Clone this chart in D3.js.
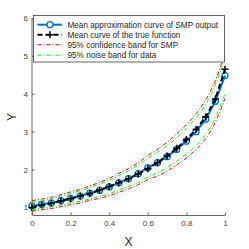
<!DOCTYPE html>
<html>
<head>
<meta charset="utf-8">
<script src="https://d3js.org/d3.v7.min.js"></script>
<style>
  body { margin: 0; background: #fff; }
  svg text { font-family: "Liberation Sans", Arial, sans-serif; }
</style>
</head>
<body>
<svg id="chart"></svg>
<script>
// sample points, x = 0:0.05:1
var xs = [0, 0.05, 0.1, 0.15, 0.2, 0.25, 0.3, 0.35, 0.4, 0.45, 0.5, 0.55, 0.6, 0.65, 0.7, 0.75, 0.8, 0.85, 0.9, 0.95, 1];
// mean approximation (blue, circles)
var meanSMP = [1.04, 1.08, 1.12, 1.18, 1.24, 1.30, 1.38, 1.45, 1.54, 1.65, 1.76, 1.89, 2.05, 2.18, 2.34, 2.53, 2.75, 3.00, 3.33, 3.80, 4.48];
// true function (black, plus)
var trueFn = [1.00, 1.06, 1.11, 1.17, 1.23, 1.30, 1.37, 1.46, 1.55, 1.65, 1.76, 1.88, 2.02, 2.18, 2.36, 2.56, 2.79, 3.06, 3.39, 3.86, 4.65];
// 95% confidence band (red)
var confUpper = [1.18, 1.22, 1.27, 1.34, 1.41, 1.48, 1.57, 1.66, 1.77, 1.90, 2.03, 2.18, 2.37, 2.53, 2.72, 2.94, 3.19, 3.47, 3.84, 4.35, 5.08];
var confLower = [0.90, 0.94, 0.97, 1.02, 1.07, 1.12, 1.19, 1.24, 1.31, 1.40, 1.49, 1.60, 1.73, 1.83, 1.96, 2.12, 2.31, 2.53, 2.82, 3.25, 3.88];
// 95% noise band (green)
var noiseUpper = [1.14, 1.18, 1.23, 1.30, 1.37, 1.44, 1.53, 1.61, 1.72, 1.84, 1.97, 2.12, 2.30, 2.45, 2.63, 2.84, 3.09, 3.37, 3.73, 4.24, 4.96];
var noiseLower = [0.94, 0.98, 1.01, 1.06, 1.11, 1.16, 1.23, 1.29, 1.36, 1.46, 1.55, 1.66, 1.80, 1.91, 2.05, 2.22, 2.41, 2.63, 2.93, 3.36, 4.00];

var xTicks = [0, 0.2, 0.4, 0.6, 0.8, 1];
var yTicks = [1, 2, 3, 4, 5, 6];
var legendLabels = ["Mean approximation curve of SMP output", "Mean curve of the true function",
                    "95% confidence band for SMP", "95% noise band for data"];

var W = 249, H = 249;
var svg = d3.select("#chart").attr("width", W).attr("height", H);

var x = d3.scaleLinear().domain([0, 1]).range([32, 225]);
var y = d3.scaleLinear().domain([0.8, 6]).range([215, 18]);

var axisCol = "#404040";

// axes (box off, ticks inward)
var gx = svg.append("g").attr("transform", "translate(0,215)")
  .call(d3.axisBottom(x).tickValues(xTicks).tickSizeInner(-2.5).tickSizeOuter(0).tickPadding(5)
    .tickFormat(function(d) { return String(d); }));
var gy = svg.append("g").attr("transform", "translate(32,0)")
  .call(d3.axisLeft(y).tickValues(yTicks).tickSizeInner(-2.5).tickSizeOuter(0).tickPadding(4)
    .tickFormat(d3.format("d")));
[gx, gy].forEach(function(g) {
  g.select(".domain").attr("stroke", axisCol).attr("stroke-width", 0.8);
  g.selectAll(".tick line").attr("stroke", axisCol).attr("stroke-width", 0.8);
  g.selectAll(".tick text").attr("fill", axisCol).attr("font-size", 8)
    .attr("font-family", "Liberation Sans, Arial, sans-serif");
});
gy.select(".domain").attr("d", "M0," + y(6) + "V215");

svg.append("text").attr("x", 128.5).attr("y", 246).attr("text-anchor", "middle")
  .attr("font-size", 12).attr("fill", "#262626").text("X");
svg.append("text").attr("transform", "translate(16,117) rotate(-90)").attr("text-anchor", "middle")
  .attr("font-size", 12).attr("fill", "#262626").text("Y");

function lineOf(vals, curve) {
  return d3.line().x(function(d, i) { return x(xs[i]); }).y(function(d) { return y(d); })
    .curve(curve || d3.curveLinear)(vals);
}

var blue = "#0072BD";
var green = "#00ff00";
var plot = svg.append("g");

// blue mean curve with circles
plot.append("path").attr("d", lineOf(meanSMP)).attr("fill", "none")
  .attr("stroke", blue).attr("stroke-width", 2);
plot.selectAll(".circ").data(meanSMP).enter().append("circle")
  .attr("cx", function(d, i) { return x(xs[i]); }).attr("cy", function(d) { return y(d); })
  .attr("r", 3).attr("fill", "none").attr("stroke", blue).attr("stroke-width", 1.3);

// black true curve, dashed with plus
plot.append("path").attr("d", lineOf(trueFn)).attr("fill", "none")
  .attr("stroke", "#000").attr("stroke-width", 2).attr("stroke-dasharray", "5,3");
plot.selectAll(".plus").data(trueFn).enter().append("path")
  .attr("d", function(d, i) {
    var cx = x(xs[i]), cy = y(d), s = 3.5;
    return "M" + (cx - s) + "," + cy + "H" + (cx + s) + "M" + cx + "," + (cy - s) + "V" + (cy + s);
  })
  .attr("stroke", "#000").attr("stroke-width", 1.5);

// bands
[[confUpper, "#ff0000"], [confLower, "#ff0000"], [noiseUpper, green], [noiseLower, green]]
  .forEach(function(b) {
    plot.append("path").attr("d", lineOf(b[0], d3.curveMonotoneX)).attr("fill", "none")
      .attr("stroke", b[1]).attr("stroke-width", 1).attr("stroke-dasharray", "4,2,1,2");
  });

// legend
var lg = svg.append("g");
lg.append("rect").attr("x", 33.5).attr("y", 15.5).attr("width", 191).attr("height", 46.5)
  .attr("fill", "#fff").attr("stroke", axisCol).attr("stroke-width", 0.8);
var rowY = [24.7, 34.7, 44.7, 55.2];
var styles = [
  { col: blue, w: 2, dash: null, marker: "circle" },
  { col: "#000", w: 2, dash: "5,3", marker: "plus" },
  { col: "#ff0000", w: 1, dash: "4,2,1,2", marker: null },
  { col: green, w: 1, dash: "4,2,1,2", marker: null }
];
legendLabels.forEach(function(lab, i) {
  var ry = rowY[i], st = styles[i];
  lg.append("line").attr("x1", 37.5).attr("x2", 62).attr("y1", ry).attr("y2", ry)
    .attr("stroke", st.col).attr("stroke-width", st.w).attr("stroke-dasharray", st.dash);
  if (st.marker === "circle") {
    lg.append("circle").attr("cx", 50).attr("cy", ry).attr("r", 3)
      .attr("fill", "#fff").attr("stroke", st.col).attr("stroke-width", 1.3);
  } else if (st.marker === "plus") {
    lg.append("path").attr("d", "M46.5," + ry + "H53.5M50," + (ry - 3.5) + "V" + (ry + 3.5))
      .attr("stroke", st.col).attr("stroke-width", 1.5);
  }
  lg.append("text").attr("x", 67.5).attr("y", ry + 2.8).attr("font-size", 8.2)
    .attr("fill", "#262626").text(lab);
});
</script>
</body>
</html>
